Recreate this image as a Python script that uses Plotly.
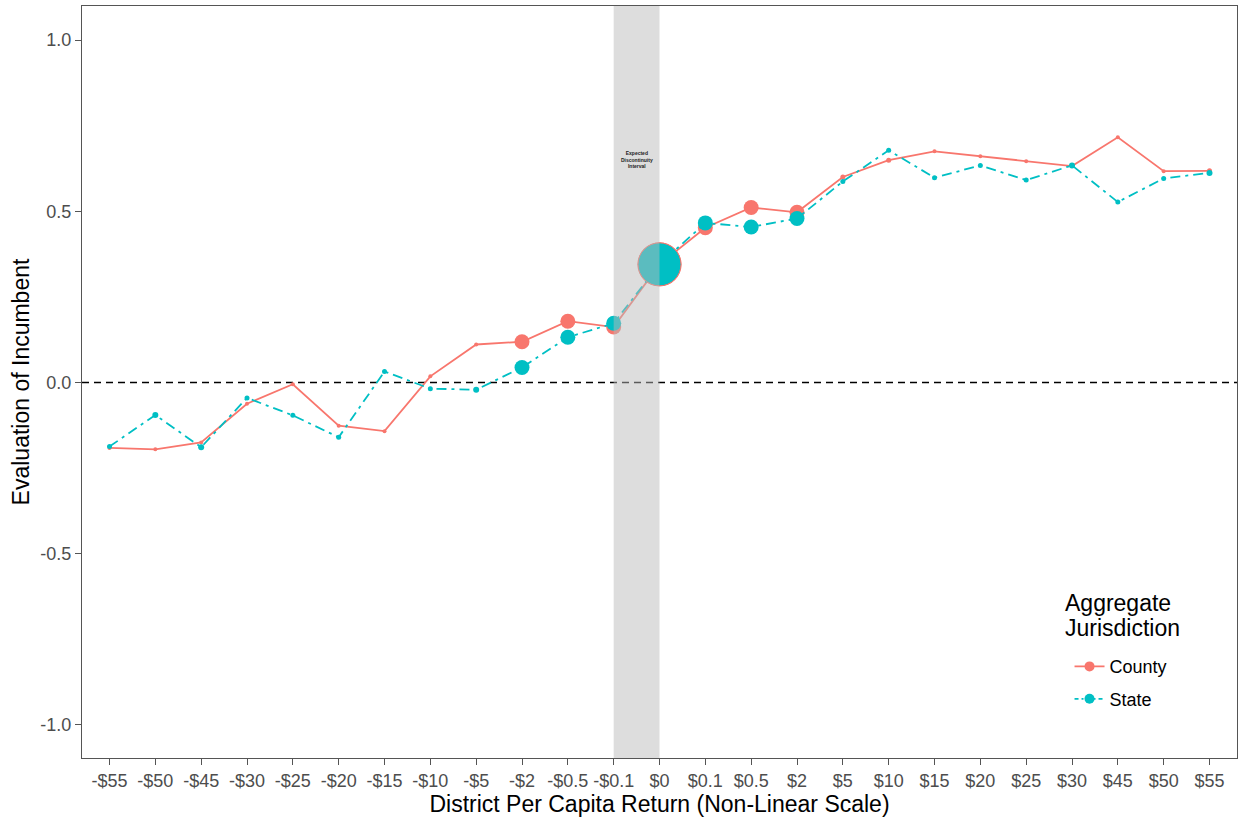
import plotly.graph_objects as go

categories = ["-$55", "-$50", "-$45", "-$30", "-$25", "-$20", "-$15", "-$10", "-$5", "-$2",
              "-$0.5", "-$0.1", "$0", "$0.1", "$0.5", "$2", "$5", "$10", "$15", "$20",
              "$25", "$30", "$45", "$50", "$55"]

county_values = [-0.191, -0.195, -0.175, -0.062, -0.005, -0.126, -0.142, 0.018, 0.111, 0.119,
                 0.179, 0.162, 0.345, 0.452, 0.511, 0.497, 0.600, 0.649, 0.675, 0.661,
                 0.646, 0.632, 0.716, 0.617, 0.618]
state_values = [-0.187, -0.095, -0.189, -0.045, -0.096, -0.160, 0.032, -0.018, -0.021, 0.044,
                0.132, 0.173, 0.345, 0.466, 0.454, 0.479, 0.587, 0.678, 0.598, 0.634,
                0.591, 0.634, 0.527, 0.596, 0.612]

county_sizes = [4, 4, 4, 4, 4, 4, 4, 4, 4, 15, 15, 15, 44, 15, 15, 15, 5, 5, 4, 4, 4, 4, 4, 4, 5]
state_sizes = [5, 6, 6, 5, 5, 5, 5, 5, 6, 15, 15, 15, 43, 15, 15, 15, 5, 5, 5, 5, 5, 6, 5, 5, 6]

y_tick_vals = [-1.0, -0.5, 0.0, 0.5, 1.0]
y_tick_text = ["-1.0", "-0.5", "0.0", "0.5", "1.0"]

COUNTY = "#F8766D"
STATE = "#00BFC4"
FONT = "Liberation Sans, Arial, Helvetica, sans-serif"

fig = go.Figure()

fig.add_hline(y=0, line=dict(color="black", width=1.6, dash="7px,5px"), layer="below")

fig.add_trace(go.Scatter(
    x=categories, y=county_values, mode="lines+markers",
    line=dict(color=COUNTY, width=1.8),
    marker=dict(color=COUNTY, size=county_sizes, opacity=1, line=dict(width=0)),
    showlegend=False, name="County"))
fig.add_trace(go.Scatter(
    x=categories, y=state_values, mode="lines+markers",
    line=dict(color=STATE, width=1.8, dash="10px,5px,3px,5px"),
    marker=dict(color=STATE, size=state_sizes, opacity=1,
                line=dict(width=[0] * 12 + [1] + [0] * 12, color=COUNTY)),
    showlegend=False, name="State"))

# legend entries
fig.add_trace(go.Scatter(x=[None], y=[None], mode="lines+markers", name="County",
                         legendgroup="county",
                         line=dict(color=COUNTY, width=1.8),
                         marker=dict(color=COUNTY, size=10)))
fig.add_trace(go.Scatter(x=[None], y=[None], mode="lines+markers", name="State",
                         legendgroup="state",
                         line=dict(color=STATE, width=1.8, dash="4px,3px,2px,3px"),
                         marker=dict(color=STATE, size=10)))

# expected discontinuity interval band (drawn on top, translucent)
fig.add_shape(type="rect", xref="x", yref="paper", x0=11, x1=12, y0=0, y1=1,
              fillcolor="rgba(186,186,186,0.49)", line=dict(width=0), layer="above")
fig.add_annotation(x=11.5, y=0.65, xref="x", yref="y",
                   text="<b>Expected<br>Discontinuity<br>Interval</b>",
                   showarrow=False, font=dict(size=5, color="#222222", family=FONT))

# legend title (as separate text lines for exact spacing)
for txt, yp in [("Aggregate", 0.206), ("Jurisdiction", 0.173)]:
    fig.add_annotation(x=0.849, y=yp, xref="paper", yref="paper", text=txt,
                       showarrow=False, xanchor="left", yanchor="middle",
                       font=dict(size=23, color="black", family=FONT))

fig.update_layout(
    width=1238, height=821,
    margin=dict(l=82, r=1, t=6, b=63),
    paper_bgcolor="white", plot_bgcolor="white",
    font=dict(family=FONT, color="black"),
    legend=dict(
        x=0.855, y=0.146, xanchor="left", yanchor="top",
        font=dict(size=18, color="black"),
        bgcolor="rgba(255,255,255,0)", tracegroupgap=6, itemwidth=30,
    ),
)

fig.update_xaxes(
    type="category", categoryorder="array", categoryarray=categories,
    range=[-0.6, 24.6], showgrid=False, zeroline=False,
    showline=True, mirror=True, linecolor="#555555", linewidth=1,
    ticks="outside", ticklen=6, tickcolor="#555555", tickwidth=1,
    tickfont=dict(size=18, color="#4D4D4D"),
    title=dict(text="District Per Capita Return (Non-Linear Scale)",
               font=dict(size=23, color="black"), standoff=5),
    automargin=False,
)
fig.update_yaxes(
    range=[-1.0965, 1.0994], showgrid=False, zeroline=False,
    showline=True, mirror=True, linecolor="#555555", linewidth=1,
    ticks="outside", ticklen=6, tickcolor="#555555", tickwidth=1,
    tickvals=y_tick_vals, ticktext=y_tick_text,
    tickfont=dict(size=18, color="#4D4D4D"),
    title=dict(text="Evaluation of Incumbent", font=dict(size=23, color="black"), standoff=4),
    automargin=False,
)

fig.write_html("out.html", config={"displayModeBar": False},
               post_script="document.body.style.margin='0';document.body.style.overflow='hidden';")
